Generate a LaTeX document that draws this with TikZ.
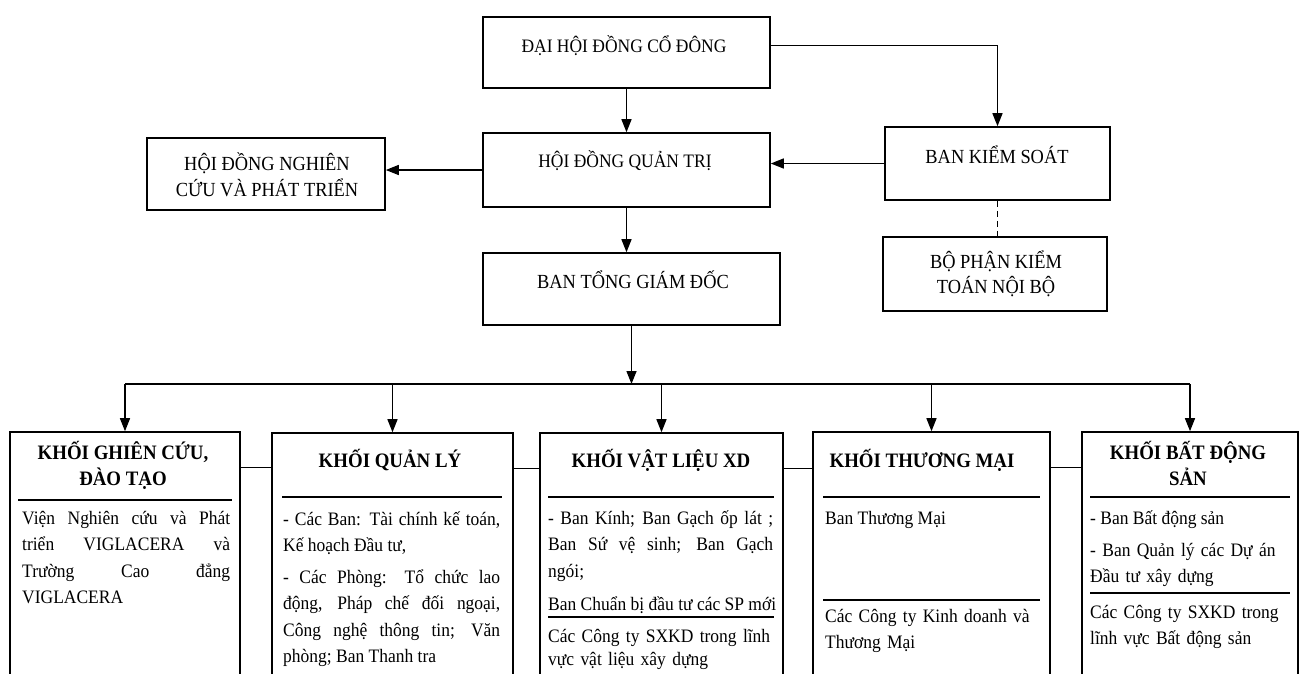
\documentclass[tikz,border=0pt]{standalone}
\usepackage{fontspec}
\setmainfont[FakeStretch=0.92]{Liberation Serif}
\usetikzlibrary{arrows.meta}
\begin{document}
\begin{tikzpicture}[x=1pt,y=-1pt,
 box/.style={draw, line width=1.6pt, inner sep=0pt},
 hd/.style={font=\fontsize{20}{25}\selectfont, align=center, inner sep=0pt},
 hdb/.style={font=\fontsize{19}{25}\selectfont, align=center, inner sep=0pt},
 ttl/.style={font=\bfseries\fontsize{20.5}{26}\selectfont, align=center, inner sep=0pt, anchor=north},
 body/.style={font=\fontsize{19}{26.5}\selectfont, inner sep=0pt, anchor=north west},
 arr/.style={-{Triangle[length=13pt,width=10pt]}, line width=1.4pt},
 ln/.style={line width=1.4pt},
 sepl/.style={line width=1.3pt}]
\useasboundingbox (0,0) rectangle (1302,673);
\clip (0,0) rectangle (1302,673);
\fill[white] (0,0) rectangle (1302,673);

% top boxes
\node[box, minimum width=287pt, minimum height=71pt] (dh) at (626.5,52.5) {};
\node[hdb, anchor=base] (dht) at (624,52) {ĐẠI HỘI ĐỒNG CỔ ĐÔNG};
\node[box, minimum width=287pt, minimum height=74pt] (hq) at (626.5,170) {};
\node[hdb, anchor=base] (hqt) at (625,167) {HỘI ĐỒNG QUẢN TRỊ};
\node[box, minimum width=238pt, minimum height=72pt] (nc) at (266,174) {};
\node[hd, anchor=north] (nct) at (267,152.5) {\strut HỘI ĐỒNG NGHIÊN\\CỨU VÀ PHÁT TRIỂN};
\node[box, minimum width=225pt, minimum height=73pt] (bks) at (997.5,163.5) {};
\node[hd, anchor=base] (bkst) at (997,163) {BAN KIỂM SOÁT};
\node[box, minimum width=224pt, minimum height=74pt] (bp) at (995,274) {};
\node[hd, anchor=north] (bpt) at (996,250.5) {\strut BỘ PHẬN KIỂM\\TOÁN NỘI BỘ};
\node[box, minimum width=297pt, minimum height=72pt] (tg) at (631.5,289) {};
\node[hd, anchor=base] (tgt) at (633,288) {BAN TỔNG GIÁM ĐỐC};

% connectors top
\draw[arr] (dh.south) -- (hq.north);
\draw[arr] ([yshift=7pt]dh.east) -| (bks.north);
\draw[arr] (hq.west) -- (hq.west -| nc.east);
\draw[arr] (bks.west) -- (bks.west -| hq.east);
\draw[ln, dashed, dash pattern=on 6pt off 4pt] (bks.south) -- (bks.south |- bp.north);
\draw[arr] (hq.south) -- (hq.south |- tg.north);

% bottom boxes
\node[box, minimum width=230pt, minimum height=268pt] (k1) at (125,566) {};
\node[box, minimum width=241pt, minimum height=268pt] (k2) at (392.5,567) {};
\node[box, minimum width=243pt, minimum height=268pt] (k3) at (661.5,567) {};
\node[box, minimum width=237pt, minimum height=268pt] (k4) at (931.5,566) {};
\node[box, minimum width=216pt, minimum height=268pt] (k5) at (1190,566) {};

% bus
\coordinate (bus) at (631.5,384);
\draw[arr] (tg.south) -- (bus);
\draw[ln] (k1.north |- bus) -- (k5.north |- bus);
\foreach \k in {k1,k2,k3,k4,k5} {\draw[arr] (\k.north |- bus) -- (\k.north);}

% links between bottom boxes
\draw[ln] ([yshift=-36pt]k1.north east) -- ([yshift=-36pt]k1.north east -| k2.west);
\draw[ln] ([yshift=-36pt]k2.north east) -- ([yshift=-36pt]k2.north east -| k3.west);
\draw[ln] ([yshift=-36pt]k3.north east) -- ([yshift=-36pt]k3.north east -| k4.west);
\draw[ln] ([yshift=-36pt]k4.north east) -- ([yshift=-36pt]k4.north east -| k5.west);

% titles
\node[ttl] (t1) at (123,440.8) {\strut KHỐI GHIÊN CỨU,\\ĐÀO TẠO};
\node[ttl, anchor=base] (t2) at (390,467) {KHỐI QUẢN LÝ};
\node[ttl, anchor=base] (t3) at (661,467) {KHỐI VẬT LIỆU XD};
\node[ttl, anchor=base] (t4) at (922,467) {KHỐI THƯƠNG MẠI};
\node[ttl] (t5) at (1188,440.8) {\strut KHỐI BẤT ĐỘNG\\SẢN};

% separators
\draw[sepl] (18,500) -- (232,500);
\draw[sepl] (282,497) -- (502,497);
\draw[sepl] (548,497) -- (774,497);
\draw[sepl] (548,617) -- (774,617);
\draw[sepl] (823,497) -- (1040,497);
\draw[sepl] (823,600) -- (1040,600);
\draw[sepl] (1090,497) -- (1290,497);
\draw[sepl] (1090,593) -- (1290,593);

% body texts
\node[body, text width=208pt, align=justify] (b1) at (22,505.5) {\strut Viện Nghiên cứu và Phát\linebreak triển VIGLACERA và\linebreak Trường Cao đẳng\linebreak VIGLACERA};
\node[body, text width=217pt, align=justify] (b2a) at (283,506.5) {\strut - Các Ban: Tài chính kế toán,\linebreak Kế hoạch Đầu tư,};
\node[body, text width=217pt, align=justify] (b2b) at (283,564.5) {\strut - Các Phòng: Tổ chức lao\linebreak động, Pháp chế đối ngoại,\linebreak Công nghệ thông tin; Văn\linebreak phòng; Ban Thanh tra};
\node[body, text width=225pt, align=justify] (b3a) at (548,505.5) {\strut - Ban Kính; Ban Gạch ốp lát ;\linebreak Ban Sứ vệ sinh; Ban Gạch\linebreak ngói;};
\node[body, anchor=base west] (b3b) at (548,610) {Ban Chuẩn bị đầu tư các SP mới};
\node[body, text width=225pt, align=left, font=\fontsize{19}{23.5}\selectfont] (b3c) at (548,625.5) {\strut Các Công ty SXKD trong lĩnh\\vực vật liệu xây dựng};
\node[body, anchor=base west] (b4a) at (825,524) {Ban Thương Mại};
\node[body, text width=215pt, align=left] (b4b) at (825,603.5) {\strut Các Công ty Kinh doanh và\\Thương Mại};
\node[body, anchor=base west] (b5a) at (1090,524) {- Ban Bất động sản};
\node[body, text width=200pt, align=left] (b5b) at (1090,537.5) {\strut - Ban Quản lý các Dự án\\Đầu tư xây dựng};
\node[body, text width=200pt, align=left] (b5c) at (1090,599.5) {\strut Các Công ty SXKD trong\\lĩnh vực Bất động sản};
\end{tikzpicture}
\end{document}
